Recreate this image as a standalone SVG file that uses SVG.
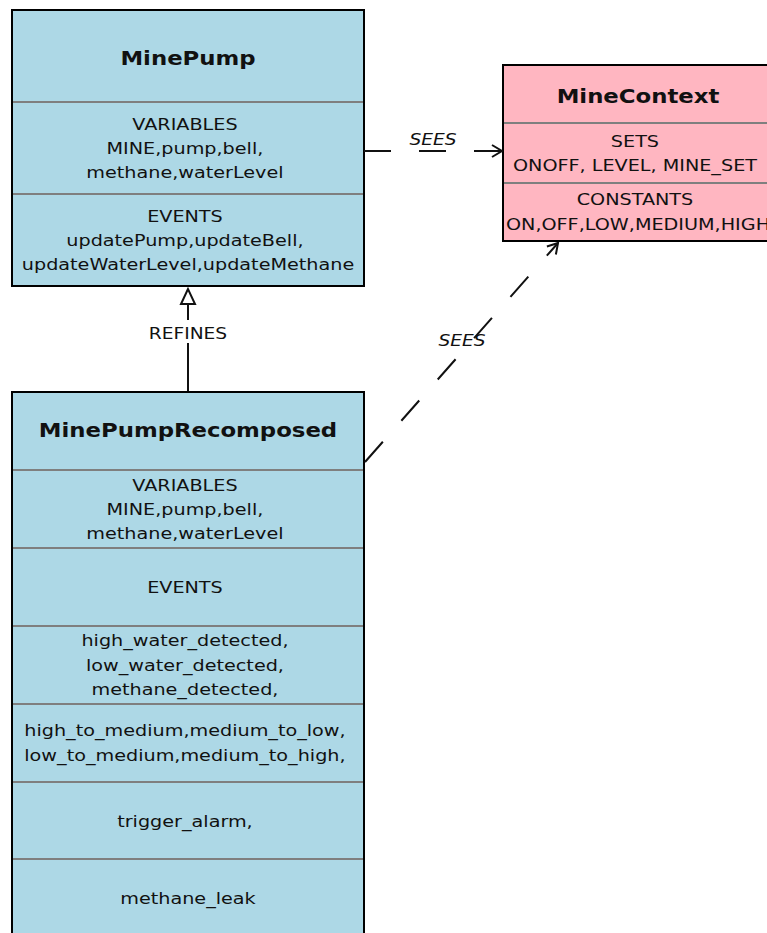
<svg xmlns="http://www.w3.org/2000/svg" width="767" height="933" viewBox="0 0 767 933">
  <style>
    .box { stroke: #000; stroke-width: 2; }
    .machine { fill: #add8e6; }
    .context { fill: #ffb6c1; }
    .div { stroke: #7f7f7f; stroke-width: 2; }
    text { font-family: "DejaVu Sans", Verdana, sans-serif; fill: #111; text-anchor: middle; }
    .title { font-size: 19px; font-weight: bold; }
    .body { font-size: 16px; }
    .lbl { font-size: 15.5px; }
    .it { font-style: italic; }
    .edge { stroke: #111; stroke-width: 2; fill: none; }
    .dash { stroke-dasharray: 27 28; }
  </style>
  <defs>
    <marker id="open" markerUnits="userSpaceOnUse" markerWidth="14" markerHeight="16" refX="11" refY="7" orient="auto">
      <path d="M1,1 L11,7 L1,13" fill="none" stroke="#111" stroke-width="2"/>
    </marker>
  </defs>

  <rect width="767" height="933" fill="#fff"/>

  <g id="MinePump">
    <rect class="box machine" x="12" y="10" width="352" height="276"/>
    <line class="div" x1="13" y1="102" x2="363" y2="102"/>
    <line class="div" x1="13" y1="194" x2="363" y2="194"/>
    <text class="title" transform="translate(188,65) scale(1.2,1)">MinePump</text>
    <text class="body" transform="translate(188,0) scale(1.2,1)">
      <tspan x="0" y="130">VARIABLES</tspan>
      <tspan x="0" y="154">MINE,pump,bell,</tspan>
      <tspan x="0" y="178">methane,waterLevel</tspan>
      <tspan x="0" y="222">EVENTS</tspan>
      <tspan x="0" y="246">updatePump,updateBell,</tspan>
      <tspan x="0" y="270">updateWaterLevel,updateMethane</tspan>
    </text>
  </g>

  <g id="MineContext">
    <rect class="box context" x="503" y="65" width="270" height="176"/>
    <line class="div" x1="504" y1="123" x2="772" y2="123"/>
    <line class="div" x1="504" y1="183" x2="772" y2="183"/>
    <text class="title" transform="translate(638,103) scale(1.2,1)">MineContext</text>
    <text class="body" transform="translate(638,0) scale(1.2,1)">
      <tspan x="0" y="147">SETS</tspan>
      <tspan x="0" y="171">ONOFF, LEVEL, MINE_SET</tspan>
      <tspan x="0" y="205">CONSTANTS</tspan>
      <tspan x="0" y="230">ON,OFF,LOW,MEDIUM,HIGH</tspan>
    </text>
  </g>

  <g id="MinePumpRecomposed">
    <rect class="box machine" x="12" y="392" width="352" height="560"/>
    <line class="div" x1="13" y1="470" x2="363" y2="470"/>
    <line class="div" x1="13" y1="548" x2="363" y2="548"/>
    <line class="div" x1="13" y1="626" x2="363" y2="626"/>
    <line class="div" x1="13" y1="704" x2="363" y2="704"/>
    <line class="div" x1="13" y1="782" x2="363" y2="782"/>
    <line class="div" x1="13" y1="859" x2="363" y2="859"/>
    <text class="title" transform="translate(188,437) scale(1.2,1)">MinePumpRecomposed</text>
    <text class="body" transform="translate(188,0) scale(1.2,1)">
      <tspan x="0" y="491">VARIABLES</tspan>
      <tspan x="0" y="515">MINE,pump,bell,</tspan>
      <tspan x="0" y="539">methane,waterLevel</tspan>
      <tspan x="0" y="593">EVENTS</tspan>
      <tspan x="0" y="646">high_water_detected,</tspan>
      <tspan x="0" y="671">low_water_detected,</tspan>
      <tspan x="0" y="695">methane_detected,</tspan>
      <tspan x="0" y="736">high_to_medium,medium_to_low,</tspan>
      <tspan x="0" y="761">low_to_medium,medium_to_high,</tspan>
      <tspan x="0" y="827">trigger_alarm,</tspan>
      <tspan x="0" y="904">methane_leak</tspan>
    </text>
  </g>

  <g id="connectors">
    <!-- refinement: MinePumpRecomposed -> MinePump -->
    <line class="edge" x1="188" y1="391" x2="188" y2="304"/>
    <polygon points="188,289 181,304 195,304" fill="#fff" stroke="#111" stroke-width="2"/>
    <rect x="140" y="320" width="96" height="23" fill="#fff"/>
    <text class="lbl" transform="translate(188,339) scale(1.2,1)">REFINES</text>

    <!-- MinePump sees MineContext -->
    <line class="edge dash" x1="364" y1="151" x2="502" y2="151" marker-end="url(#open)"/>
    <text class="lbl it" transform="translate(433,145) scale(1.2,1)">SEES</text>

    <!-- MinePumpRecomposed sees MineContext -->
    <line class="edge dash" x1="365" y1="462" x2="558" y2="243" marker-end="url(#open)"/>
    <text class="lbl it" transform="translate(462,346) scale(1.2,1)">SEES</text>
  </g>
</svg>
